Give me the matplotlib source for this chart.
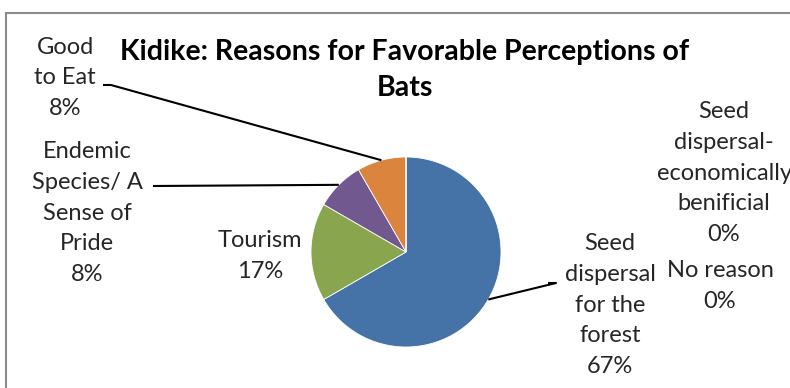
import numpy as np
import matplotlib.pyplot as plt
from matplotlib.patches import Rectangle

plt.rcParams['font.family'] = ['Lato', 'DejaVu Sans']

# данные
reasons = ['Seed\ndispersal\nfor the\nforest', 'Tourism', 'Endemic\nSpecies/ A\nSense of\nPride',
           'Good\nto Eat', 'Seed\ndispersal-\neconomically\nbenificial', 'No reason']
counts = [8, 2, 1, 1, 0, 0]
colors = ['#4573A7', '#89A54E', '#71588F', '#DB843D', '#AA4643', '#4198AF']

W, H = 790, 388
fig = plt.figure(figsize=(W / 100, H / 100), dpi=100)
ax = fig.add_axes([0, 0, 1, 1])

cx, cy, r = 406, H - 252, 95
wedges, _ = ax.pie(counts, colors=colors, startangle=90, counterclock=False,
                   center=(cx, cy), radius=r,
                   wedgeprops=dict(edgecolor='white', linewidth=0.6))
ax.set_xlim(0, W)
ax.set_ylim(0, H)
ax.set_aspect('equal')
ax.axis('off')

pct = [c / sum(counts) * 100 for c in counts]
labels = [f'{n}\n{p:.0f}%' for n, p in zip(reasons, pct)]

# позиции подписей (в пикселях)
pos = [(610, 305), (260, 256), (87, 213), (65, 78), (724, 173), (720, 286)]
for (x, y), t in zip(pos, labels):
    ax.text(x, H - y, t, ha='center', va='center', multialignment='center',
            fontsize=17, color='#262626', linespacing=1.58)

# выноски от центра сектора к подписи
def mid_pt(w):
    a = np.deg2rad((w.theta1 + w.theta2) / 2)
    return cx + r * np.cos(a), cy + r * np.sin(a)

leaders = {0: [(556, 283), (548, 283)], 2: [(153, 186)], 3: [(111, 85), (103, 85)]}
for i, pts in leaders.items():
    x0, y0 = mid_pt(wedges[i])
    xs = [x0] + [p[0] for p in pts]
    ys = [y0] + [H - p[1] for p in pts]
    ax.plot(xs, ys, color='black', linewidth=1.5, solid_capstyle='butt')

ax.text(405, H - 52, 'Kidike: Reasons for Favorable Perceptions of', ha='center', va='center',
        fontsize=20.5, fontweight='bold', color='black')
ax.text(405, H - 88, 'Bats', ha='center', va='center',
        fontsize=20.5, fontweight='bold', color='black')

# рамка диаграммы
fig.patches.append(Rectangle((6, -10), W + 20, H - 13 + 10, transform=None,
                             fill=False, edgecolor='#8c8c8c', linewidth=1.5))

plt.savefig('out.png', dpi=100)
